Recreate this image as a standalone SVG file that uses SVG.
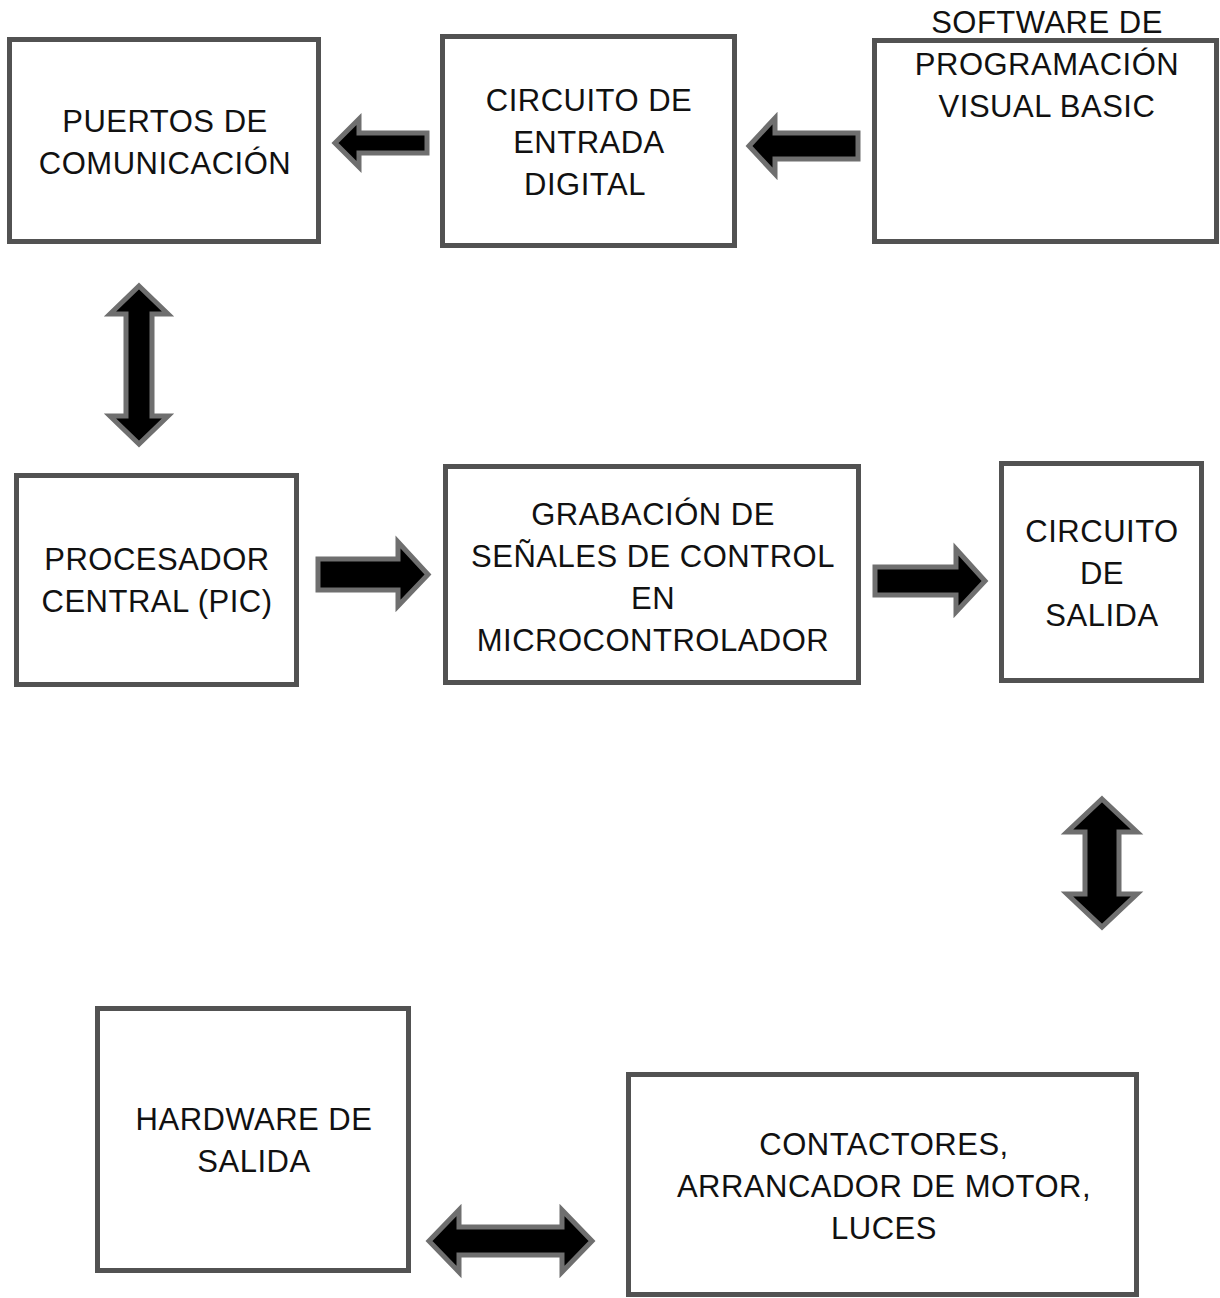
<svg xmlns="http://www.w3.org/2000/svg" width="1220" height="1298" viewBox="0 0 1220 1298">
  <style>
    .box { fill: #ffffff; stroke: #525252; stroke-width: 5; }
    .lbl { font-family: "Liberation Sans", Arial, sans-serif; font-size: 31px; letter-spacing: 0.5px; fill: #111111; text-anchor: middle; }
    .arrow { fill: #000000; stroke: #6f6f6f; stroke-width: 5; stroke-linejoin: miter; }
  </style>
  <rect width="1220" height="1298" fill="#ffffff"/>

  <g id="puertos">
    <rect class="box" x="9.5" y="39.5" width="309" height="202"/>
    <text class="lbl" x="165" y="132">PUERTOS DE</text>
    <text class="lbl" x="165" y="174">COMUNICACIÓN</text>
  </g>

  <g id="entrada">
    <rect class="box" x="442.5" y="36.5" width="292" height="209"/>
    <text class="lbl" x="589" y="111">CIRCUITO DE</text>
    <text class="lbl" x="589" y="153">ENTRADA</text>
    <text class="lbl" x="585" y="195">DIGITAL</text>
  </g>

  <g id="software">
    <rect class="box" x="874.5" y="40.5" width="342" height="201"/>
    <text class="lbl" x="1047" y="33">SOFTWARE DE</text>
    <text class="lbl" x="1047" y="75">PROGRAMACIÓN</text>
    <text class="lbl" x="1047" y="117">VISUAL BASIC</text>
  </g>

  <g id="procesador">
    <rect class="box" x="16.5" y="475.5" width="280" height="209"/>
    <text class="lbl" x="157" y="570">PROCESADOR</text>
    <text class="lbl" x="157" y="612">CENTRAL (PIC)</text>
  </g>

  <g id="grabacion">
    <rect class="box" x="445.5" y="466.5" width="413" height="216"/>
    <text class="lbl" x="653" y="525">GRABACIÓN DE</text>
    <text class="lbl" x="653" y="567">SEÑALES DE CONTROL</text>
    <text class="lbl" x="653" y="609">EN</text>
    <text class="lbl" x="653" y="651">MICROCONTROLADOR</text>
  </g>

  <g id="salida">
    <rect class="box" x="1001.5" y="463.5" width="200" height="217"/>
    <text class="lbl" x="1102" y="542">CIRCUITO</text>
    <text class="lbl" x="1102" y="584">DE</text>
    <text class="lbl" x="1102" y="626">SALIDA</text>
  </g>

  <g id="hardware">
    <rect class="box" x="97.5" y="1008.5" width="311" height="262"/>
    <text class="lbl" x="254" y="1130">HARDWARE DE</text>
    <text class="lbl" x="254" y="1172">SALIDA</text>
  </g>

  <g id="contactores">
    <rect class="box" x="628.5" y="1074.5" width="508" height="220"/>
    <text class="lbl" x="884" y="1155">CONTACTORES,</text>
    <text class="lbl" x="884" y="1197">ARRANCADOR DE MOTOR,</text>
    <text class="lbl" x="884" y="1239">LUCES</text>
  </g>

  <g id="connectors">
    <!-- entrada -> puertos -->
    <path class="arrow" d="M335,143 L359,119 L359,133 L427,133 L427,153 L359,153 L359,167 Z"/>
    <!-- software -> entrada -->
    <path class="arrow" d="M749,146 L775,118 L775,133 L858,133 L858,159 L775,159 L775,174 Z"/>
    <!-- puertos <-> procesador -->
    <path class="arrow" d="M139,286 L168,314 L152,314 L152,416 L168,416 L139,444 L110,416 L126,416 L126,314 L110,314 Z"/>
    <!-- procesador -> grabacion -->
    <path class="arrow" d="M318,559 L398,559 L398,542 L428,574.5 L398,606 L398,590 L318,590 Z"/>
    <!-- grabacion -> salida -->
    <path class="arrow" d="M875,567 L956,567 L956,549 L985,581 L956,612 L956,595 L875,595 Z"/>
    <!-- salida <-> contactores -->
    <path class="arrow" d="M1102,799 L1137,832 L1119,832 L1119,894 L1137,894 L1102,927 L1067,894 L1085,894 L1085,832 L1067,832 Z"/>
    <!-- hardware <-> contactores -->
    <path class="arrow" d="M429,1241 L459,1210 L459,1227 L562,1227 L562,1210 L592,1241 L562,1272 L562,1255 L459,1255 L459,1272 Z"/>
  </g>
</svg>
